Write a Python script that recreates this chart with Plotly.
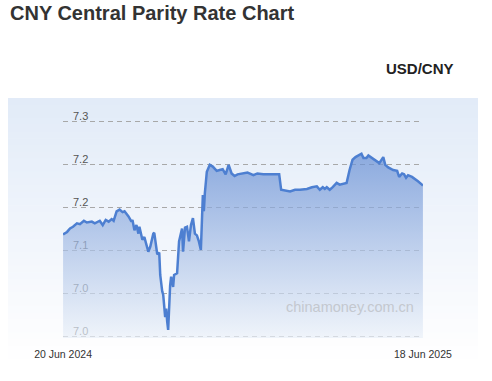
import plotly.graph_objects as go

# ---- data ----
dates = [
    "2024-06-20", "2024-06-24", "2024-06-27", "2024-06-30", "2024-07-04", "2024-07-07",
    "2024-07-11", "2024-07-14", "2024-07-19", "2024-07-22", "2024-07-27", "2024-07-30",
    "2024-08-02", "2024-08-05", "2024-08-08", "2024-08-10", "2024-08-13", "2024-08-16",
    "2024-08-19", "2024-08-21", "2024-08-25", "2024-08-28", "2024-08-29", "2024-08-31",
    "2024-09-02", "2024-09-04", "2024-09-05", "2024-09-08", "2024-09-10", "2024-09-13",
    "2024-09-14", "2024-09-16", "2024-09-19", "2024-09-20", "2024-09-22", "2024-09-23",
    "2024-09-25", "2024-09-26", "2024-09-28", "2024-09-29", "2024-10-01", "2024-10-02",
    "2024-10-03", "2024-10-04", "2024-10-06", "2024-10-07", "2024-10-09", "2024-10-10",
    "2024-10-13", "2024-10-15", "2024-10-18", "2024-10-19", "2024-10-21", "2024-10-23",
    "2024-10-25", "2024-10-27", "2024-10-29", "2024-10-31", "2024-11-02", "2024-11-04",
    "2024-11-06", "2024-11-07", "2024-11-08", "2024-11-09", "2024-11-10", "2024-11-12",
    "2024-11-15", "2024-11-18", "2024-11-22", "2024-11-25", "2024-11-28", "2024-12-01",
    "2024-12-04", "2024-12-07", "2024-12-10", "2024-12-13", "2024-12-18", "2024-12-23",
    "2024-12-25", "2024-12-29", "2025-01-02", "2025-01-08", "2025-01-15", "2025-01-24",
    "2025-01-26", "2025-01-30", "2025-02-04", "2025-02-09", "2025-02-14", "2025-02-21",
    "2025-02-26", "2025-03-03", "2025-03-06", "2025-03-09", "2025-03-11", "2025-03-13",
    "2025-03-16", "2025-03-19", "2025-03-23", "2025-03-26", "2025-03-31", "2025-04-02",
    "2025-04-05", "2025-04-08", "2025-04-11", "2025-04-14", "2025-04-17", "2025-04-19",
    "2025-04-22", "2025-04-24", "2025-04-28", "2025-05-02", "2025-05-05", "2025-05-09",
    "2025-05-11", "2025-05-14", "2025-05-19", "2025-05-23", "2025-05-25", "2025-05-28",
    "2025-05-30", "2025-06-01", "2025-06-03", "2025-06-07", "2025-06-10", "2025-06-13",
    "2025-06-17", "2025-06-18",
]
usd_cny = [
    7.118, 7.121, 7.125, 7.127, 7.131, 7.130,
    7.134, 7.132, 7.133, 7.131, 7.134, 7.129,
    7.135, 7.133, 7.136, 7.134, 7.145, 7.147,
    7.144, 7.145, 7.139, 7.133, 7.135, 7.123,
    7.129, 7.119, 7.127, 7.112, 7.115, 7.102,
    7.098, 7.104, 7.119, 7.120, 7.102, 7.095,
    7.097, 7.071, 7.052, 7.048, 7.022, 7.032,
    7.017, 7.007, 7.059, 7.069, 7.057, 7.071,
    7.073, 7.110, 7.125, 7.098, 7.126, 7.127,
    7.110, 7.129, 7.137, 7.119, 7.117, 7.110,
    7.100, 7.127, 7.164, 7.145, 7.166, 7.191,
    7.199, 7.197, 7.192, 7.193, 7.194, 7.188,
    7.199, 7.189, 7.186, 7.188, 7.189, 7.190,
    7.189, 7.187, 7.189, 7.188, 7.188, 7.188,
    7.170, 7.169, 7.168, 7.170, 7.170, 7.171,
    7.173, 7.174, 7.170, 7.173, 7.171, 7.173,
    7.170, 7.173, 7.178, 7.176, 7.177, 7.178,
    7.193, 7.205, 7.208, 7.210, 7.212, 7.207,
    7.207, 7.210, 7.207, 7.203, 7.201, 7.208,
    7.199, 7.196, 7.193, 7.192, 7.185, 7.189,
    7.188, 7.184, 7.187, 7.185, 7.183, 7.180,
    7.176, 7.175,
]
y_tick_vals = [7.25, 7.20, 7.15, 7.10, 7.05, 7.00]
y_tick_text = ["7.3", "7.2", "7.2", "7.1", "7.0", "7.0"]
x_tick_vals = ["2024-06-20", "2025-06-18"]
x_tick_text = ["20 Jun 2024", "18 Jun 2025"]

W, H = 492, 381
# plot area in screenshot coordinates
PL, PR, PT, PB = 63, 423, 119, 338
ML, MT = PL, PT
MR, MB = W - PR, H - PB
PW, PH = PR - PL, PB - PT


def px_x(p):
    return (p - PL) / PW


def px_y(p):
    return (PB - p) / PH


fig = go.Figure()
fig.add_trace(go.Scatter(
    x=dates, y=usd_cny, mode="lines",
    line=dict(color="#4d7fd1", width=2.5),
    fill="tozeroy",
    fillgradient=dict(
        type="vertical",
        start=7.0, stop=7.21,
        colorscale=[[0, "rgba(232,239,248,0.7)"], [1, "rgba(101,141,211,0.7)"]],
    ),
    hoverinfo="x+y", showlegend=False,
))

# panel background gradient (bands)
shapes = []
top, bot = 98, 366
n = 40
c0 = (226, 235, 248)
c1 = (255, 255, 255)
for i in range(n):
    t = i / (n - 1)
    col = tuple(round(c0[k] + (c1[k] - c0[k]) * t) for k in range(3))
    y0p = top + (bot - top) * i / n
    y1p = top + (bot - top) * (i + 1) / n + 0.6
    shapes.append(dict(
        type="rect", xref="paper", yref="paper", layer="below",
        x0=px_x(8), x1=px_x(478), y0=px_y(y1p), y1=px_y(y0p),
        line=dict(width=0), fillcolor="rgb(%d,%d,%d)" % col,
    ))

fig.update_layout(
    width=W, height=H,
    margin=dict(l=ML, r=MR, t=MT, b=MB, pad=0),
    paper_bgcolor="white", plot_bgcolor="rgba(0,0,0,0)",
    font=dict(family="Arial, Liberation Sans, sans-serif", color="#333"),
    shapes=shapes,
    xaxis=dict(
        type="date", range=["2024-06-19 22:00", "2025-06-18 02:00"],
        tickvals=x_tick_vals, ticktext=x_tick_text,
        showgrid=False, zeroline=False, showline=False,
        ticks="", tickfont=dict(size=10.5, color="#333"),
        ticklabelstandoff=8, ticklabeloverflow="allow",
        fixedrange=True,
    ),
    yaxis=dict(
        range=[7.0 - 2 / 860, 7.25 + 2 / 860],
        tickvals=y_tick_vals, ticktext=y_tick_text,
        ticklabelposition="inside", ticklabelstandoff=7, ticklabelshift=-5,
        ticklabeloverflow="allow",
        tickfont=dict(size=11, color="#555"),
        layer="below traces",
        showgrid=True, gridcolor="#a8a8a8", griddash="5px,4px", gridwidth=1,
        zeroline=False, showline=False, ticks="",
        fixedrange=True,
    ),
    annotations=[
        dict(text="<b>CNY Central Parity Rate Chart</b>", xref="paper", yref="paper",
             x=px_x(8), y=px_y(13), xanchor="left", yanchor="middle", showarrow=False,
             font=dict(size=20, color="#333")),
        dict(text="<b>USD/CNY</b>", xref="paper", yref="paper",
             x=px_x(420), y=px_y(68), xanchor="center", yanchor="middle", showarrow=False,
             font=dict(size=15, color="#222")),
        dict(text="chinamoney.com.cn", xref="paper", yref="paper",
             x=px_x(350), y=px_y(307), xanchor="center", yanchor="middle", showarrow=False,
             font=dict(size=14.5, color="#c4c8cf")),
    ],
)

fig.write_html(
    "out.html",
    config={"displayModeBar": False},
    post_script="document.body.style.margin='0';document.body.style.overflow='hidden';",
)
